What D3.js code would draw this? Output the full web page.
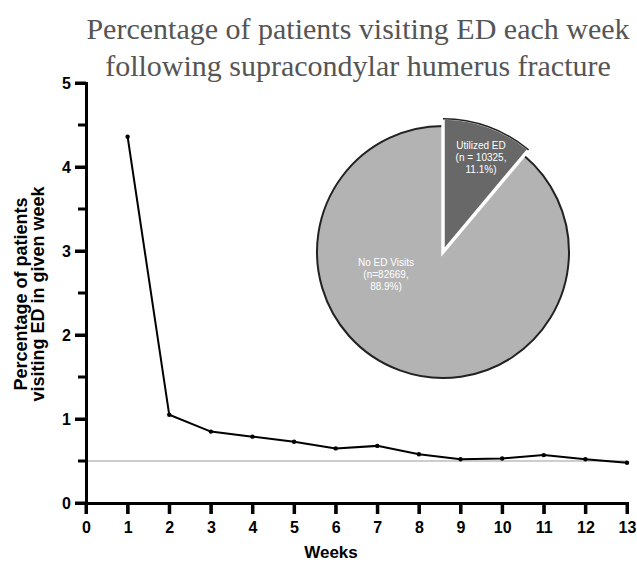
<!DOCTYPE html>
<html>
<head>
<meta charset="utf-8">
<script src="https://cdn.jsdelivr.net/npm/d3@7"></script>
<style>
  body { margin: 0; background: #fff; }
  svg { display: block; }
</style>
</head>
<body>
<div id="chart"></div>
<script>
// Data
const weeks = [1, 2, 3, 4, 5, 6, 7, 8, 9, 10, 11, 12, 13];
const pctVisiting = [4.36, 1.05, 0.85, 0.79, 0.73, 0.65, 0.68, 0.58, 0.52, 0.53, 0.57, 0.52, 0.48];
const baseline = 0.5;
const pieLabels = ["Utilized ED", "No ED Visits"];
const pieCounts = [10325, 82669];
const pieText = [["Utilized ED", "(n = 10325,", "11.1%)"], ["No ED Visits", "(n=82669,", "88.9%)"]];
const titleLines = ["Percentage of patients visiting ED each week", "following supracondylar humerus fracture"];
const yMajor = [0, 1, 2, 3, 4, 5];
const yMinor = [0.5, 1.5, 2.5, 3.5, 4.5];
const xTicks = [0, 1, 2, 3, 4, 5, 6, 7, 8, 9, 10, 11, 12, 13];

const width = 637;
const height = 563;
const margin = {left: 86, right: 10, top: 84, bottom: 60};

const svg = d3.select("#chart")
    .append("svg")
    .attr("width", width)
    .attr("height", height);

// Scales
const x = d3.scaleLinear().domain([0, 13]).range([margin.left, 627]);
const y = d3.scaleLinear().domain([0, 5]).range([503, 83]);

// Title
svg.selectAll("text.title")
    .data(titleLines)
    .enter()
    .append("text")
    .attr("class", "title")
    .attr("x", 358)
    .attr("y", (d, i) => 39 + i * 37)
    .attr("text-anchor", "middle")
    .style("font-family", "'Liberation Serif', 'Times New Roman', serif")
    .style("font-size", "30px")
    .style("fill", "#555")
    .text(d => d);

// Baseline reference
svg.append("line")
    .attr("x1", x(0)).attr("x2", x(13))
    .attr("y1", y(baseline)).attr("y2", y(baseline))
    .attr("stroke", "#bdbdbd")
    .attr("stroke-width", 1.5);

// Y axis
svg.append("g")
    .attr("transform", `translate(${x(0)},0)`)
    .call(d3.axisLeft(y).tickValues(yMajor).tickSize(11).tickPadding(4).tickFormat(d3.format("d")));

// X axis
svg.append("g")
    .attr("transform", `translate(0,${y(0)})`)
    .call(d3.axisBottom(x).tickValues(xTicks).tickSize(11).tickPadding(8).tickFormat(d3.format("d")));

svg.selectAll(".domain").attr("stroke", "#000").attr("stroke-width", 3);
svg.selectAll(".tick line").attr("stroke", "#000").attr("stroke-width", 3);

// tick marks drawn explicitly from the scales so they always show
svg.append("path")
    .attr("d", yMajor.map(v => `M${x(0) - 11},${y(v)}H${x(0)}`).join("")
        + yMinor.map(v => `M${x(0) - 8},${y(v)}H${x(0)}`).join("")
        + xTicks.map(v => `M${x(v)},${y(0)}V${y(0) + 11}`).join(""))
    .attr("stroke", "#000")
    .attr("stroke-width", 3)
    .attr("fill", "none");

svg.selectAll(".tick text")
    .style("font-family", "'Liberation Sans', Arial, sans-serif")
    .style("font-weight", "bold")
    .style("font-size", "16px")
    .style("fill", "#000");

// Axis titles
svg.append("text")
    .attr("x", 331)
    .attr("y", 558)
    .attr("text-anchor", "middle")
    .style("font-family", "'Liberation Sans', Arial, sans-serif")
    .style("font-weight", "bold")
    .style("font-size", "17px")
    .text("Weeks");

svg.append("text")
    .attr("transform", "translate(27,294) rotate(-90)")
    .attr("text-anchor", "middle")
    .style("font-family", "'Liberation Sans', Arial, sans-serif")
    .style("font-weight", "bold")
    .style("font-size", "18px")
    .selectAll("tspan")
    .data(["Percentage of patients", "visiting ED in given week"])
    .enter()
    .append("tspan")
    .attr("x", 0)
    .attr("dy", (d, i) => i === 0 ? 0 : 17)
    .text(d => d);

// Line
const line = d3.line()
    .x((d, i) => x(weeks[i]))
    .y(d => y(d));

svg.append("path")
    .datum(pctVisiting)
    .attr("d", line)
    .attr("fill", "none")
    .attr("stroke", "#000")
    .attr("stroke-width", 2);

svg.selectAll("circle.pt")
    .data(pctVisiting)
    .enter()
    .append("circle")
    .attr("class", "pt")
    .attr("cx", (d, i) => x(weeks[i]))
    .attr("cy", d => y(d))
    .attr("r", 2.2)
    .attr("fill", "#000");

// Pie inset
const pieG = svg.append("g").attr("transform", "translate(443,252)");
const pie = d3.pie().sort(null).value(d => d);
const pieData = pie(pieCounts);
const pieColor = ["#686868", "#b3b3b3"];
const radii = [134, 126];

// big slice first
pieG.append("path")
    .attr("d", d3.arc().innerRadius(0).outerRadius(radii[1])(pieData[1]))
    .attr("fill", pieColor[1])
    .attr("stroke", "#222")
    .attr("stroke-width", 2);

pieG.append("path")
    .attr("d", d3.arc().innerRadius(0).outerRadius(radii[0])(pieData[0]))
    .attr("fill", pieColor[0])
    .attr("stroke", "#fff")
    .attr("stroke-width", 3.5);

pieG.append("path")
    .attr("d", d3.arc().innerRadius(radii[0] - 1.5).outerRadius(radii[0])(pieData[0]))
    .attr("fill", "#222");

// Slice labels
const labelPos = [[38, -103], [-57, 14]];
pieText.forEach((lines, k) => {
    pieG.append("text")
        .attr("text-anchor", "middle")
        .style("font-family", "'Liberation Sans', Arial, sans-serif")
        .style("font-size", "10px")
        .style("fill", "#fff")
        .selectAll("tspan")
        .data(lines)
        .enter()
        .append("tspan")
        .attr("x", labelPos[k][0])
        .attr("y", (d, i) => labelPos[k][1] + i * 12)
        .text(d => d);
});
</script>
</body>
</html>
